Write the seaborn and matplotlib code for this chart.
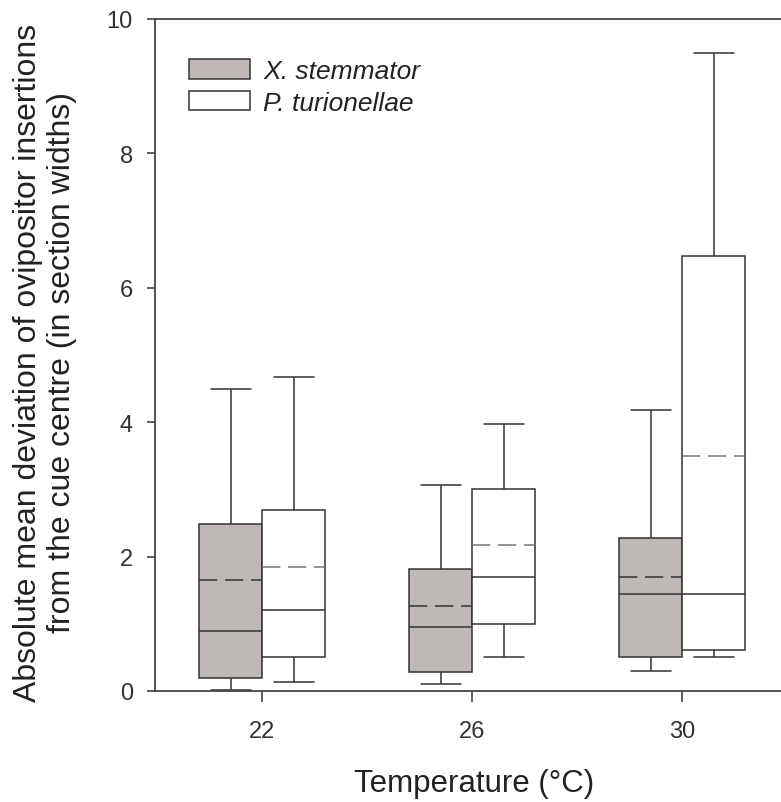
import pandas as pd
import matplotlib.pyplot as plt
from matplotlib.patches import Patch
import seaborn as sns

TEMPERATURES = ['22', '26', '30']
SPECIES = ['X. stemmator', 'P. turionellae']

# box summaries (whisker ends, quartiles, median, mean)
XS_LOW = [0.01, 0.11, 0.30]
XS_Q1 = [0.19, 0.29, 0.50]
XS_MEDIAN = [0.90, 0.95, 1.45]
XS_Q3 = [2.49, 1.82, 2.28]
XS_HIGH = [4.50, 3.06, 4.18]
XS_MEAN = [1.65, 1.26, 1.70]

PT_LOW = [0.14, 0.50, 0.50]
PT_Q1 = [0.50, 1.00, 0.61]
PT_MEDIAN = [1.20, 1.70, 1.45]
PT_Q3 = [2.70, 3.00, 6.47]
PT_HIGH = [4.68, 3.98, 9.50]
PT_MEAN = [1.85, 2.17, 3.50]

GREY = '#bfb7b5'
LINE = '#333333'

sns.set_style('ticks')
plt.rcParams['font.family'] = ['Liberation Sans', 'DejaVu Sans']


def build_frame():
    rows = []
    summaries = {
        SPECIES[0]: (XS_LOW, XS_Q1, XS_MEDIAN, XS_Q3, XS_HIGH),
        SPECIES[1]: (PT_LOW, PT_Q1, PT_MEDIAN, PT_Q3, PT_HIGH),
    }
    for sp, stats in summaries.items():
        for i, temp in enumerate(TEMPERATURES):
            # five points -> exact min / quartiles / median / max
            for arr in stats:
                rows.append({'Temperature': temp, 'Species': sp, 'value': arr[i]})
    return pd.DataFrame(rows)


df = build_frame()

fig = plt.figure(figsize=(7.81, 8.03), dpi=100)
ax = fig.add_axes([155 / 781, 111 / 803, 626 / 781, 672 / 803])

sns.boxplot(
    data=df, x='Temperature', y='value', hue='Species',
    order=TEMPERATURES, hue_order=SPECIES, palette=[GREY, 'white'],
    whis=(0, 100), width=0.6, gap=0, dodge=True, showfliers=False,
    linecolor=LINE, linewidth=1.1, capwidths=0.19, legend=False, ax=ax,
)

# dashed mean lines across each box
boxes = sorted(ax.patches, key=lambda p: p.get_path().get_extents().x0)
means = [m for pair in zip(XS_MEAN, PT_MEAN) for m in pair]
mean_cols = ['#333333', '#777777'] * len(TEMPERATURES)
for box, m, c in zip(boxes, means, mean_cols):
    ext = box.get_path().get_extents()
    ax.hlines(m, ext.x0, ext.x1, colors=c, linestyles=(0, (12, 5)), linewidth=1.1, zorder=3)

ax.set_ylim(0, 10)
ax.set_yticks([0, 2, 4, 6, 8, 10])
ax.set_xlim(-0.51, 2.47)

ax.tick_params(axis='y', direction='out', length=6, width=1.1, pad=10, labelsize=17, colors=LINE)
ax.tick_params(axis='x', direction='out', length=8, width=1.1, pad=13, labelsize=17, colors=LINE)
for side in ['left', 'bottom', 'top']:
    ax.spines[side].set_color('#444444')
    ax.spines[side].set_linewidth(1.3)
ax.spines['right'].set_visible(False)

ax.set_xlabel('Temperature (°C)', fontsize=22.5, color='#222222')
ax.set_ylabel('Absolute mean deviation of ovipositor insertions\nfrom the cue centre (in section widths)',
              fontsize=23, color='#222222', multialignment='center')
ax.xaxis.set_label_coords(0.51, -0.115)
ax.yaxis.set_label_coords(-0.124, 0.49)

handles = [Patch(facecolor=GREY, edgecolor=LINE, linewidth=1.1),
           Patch(facecolor='white', edgecolor=LINE, linewidth=1.1)]
leg = ax.legend(handles, SPECIES, loc='upper left', bbox_to_anchor=(0.055, 0.94),
                frameon=False, fontsize=19, handlelength=2.3, handleheight=0.75,
                handletextpad=0.5, labelspacing=0.28, borderpad=0, borderaxespad=0)
for t in leg.get_texts():
    t.set_fontstyle('italic')
    t.set_color('#222222')

fig.savefig('out.png', dpi=100, facecolor='white')
